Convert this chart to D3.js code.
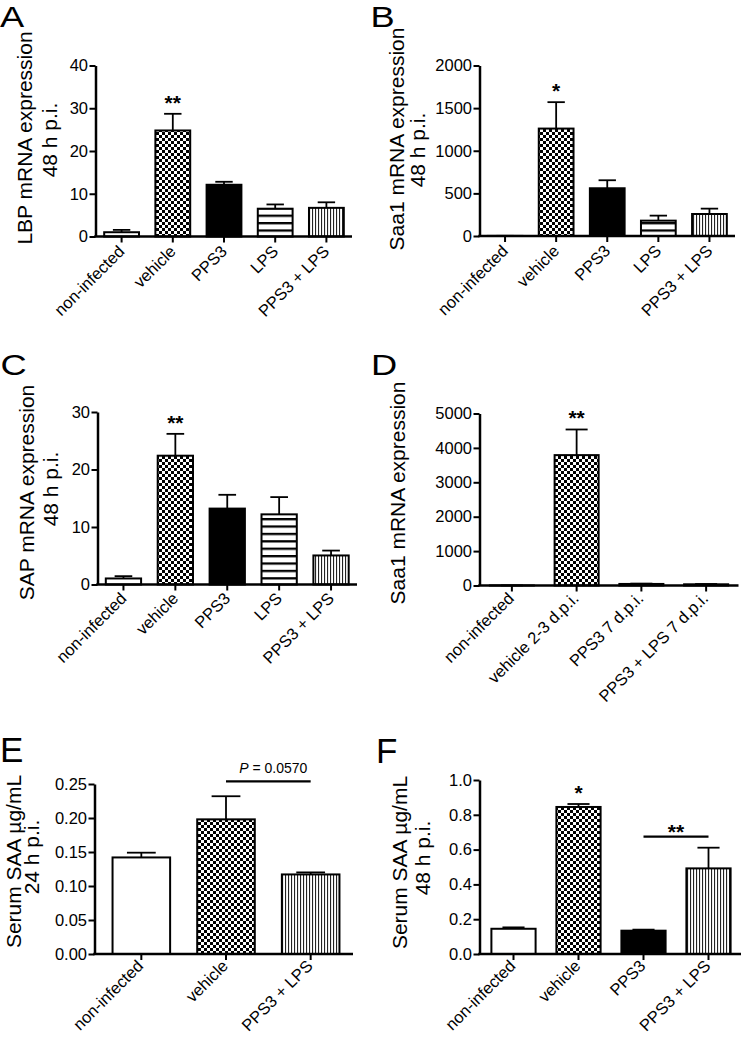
<!DOCTYPE html>
<html><head><meta charset="utf-8">
<script src="https://cdn.jsdelivr.net/npm/d3@7"></script>
<style>
body{margin:0;background:#fff}
svg{display:block}
text{font-family:"Liberation Sans",Arial,Helvetica,sans-serif;fill:#000}
</style>
</head><body>
<svg id="c" width="742" height="1039"></svg>
<script>
// ---------------- data ----------------
const catA = ["non-infected", "vehicle", "PPS3", "LPS", "PPS3 + LPS"];
const meanA = [1.0, 24.8, 12.1, 6.5, 6.7];
const semA = [0.55, 3.9, 0.7, 1.0, 1.3];
const starsA = ["", "**", "", "", ""];
const ticksA = [0, 10, 20, 30, 40];
const ylabA = ["LBP mRNA expression", "48 h p.i."];

const catB = ["non-infected", "vehicle", "PPS3", "LPS", "PPS3 + LPS"];
const meanB = [1, 1260, 560, 180, 258];
const semB = [1, 310, 94, 59, 63];
const starsB = ["", "*", "", "", ""];
const ticksB = [0, 500, 1000, 1500, 2000];
const ylabB = ["Saa1 mRNA expression", "48 h p.i."];

const catC = ["non-infected", "vehicle", "PPS3", "LPS", "PPS3 + LPS"];
const meanC = [1.05, 22.4, 13.2, 12.2, 5.05];
const semC = [0.4, 3.8, 2.4, 3.0, 0.85];
const starsC = ["", "**", "", "", ""];
const ticksC = [0, 10, 20, 30];
const ylabC = ["SAP mRNA expression", "48 h p.i."];

const catD = ["non-infected", "vehicle 2-3 d.p.i.", "PPS3 7 d.p.i.", "PPS3 + LPS 7 d.p.i."];
const meanD = [1, 3790, 45, 35];
const semD = [1, 745, 10, 8];
const starsD = ["", "**", "", ""];
const ticksD = [0, 1000, 2000, 3000, 4000, 5000];
const ylabD = ["Saa1 mRNA expression"];

const catE = ["non-infected", "vehicle", "PPS3 + LPS"];
const meanE = [0.142, 0.198, 0.117];
const semE = [0.007, 0.034, 0.003];
const starsE = ["", "", ""];
const ticksE = [0, 0.05, 0.10, 0.15, 0.20, 0.25];
const ylabE = ["Serum SAA µg/mL", "24 h p.i."];
const bracketE = ["vehicle", "PPS3 + LPS", 0.254, "P = 0.0570"];

const catF = ["non-infected", "vehicle", "PPS3", "PPS3 + LPS"];
const meanF = [0.145, 0.845, 0.134, 0.492];
const semF = [0.008, 0.017, 0.006, 0.119];
const starsF = ["", "*", "", ""];
const ticksF = [0, 0.2, 0.4, 0.6, 0.8, 1.0];
const ylabF = ["Serum SAA µg/mL", "48 h p.i."];
const bracketF = ["PPS3", "PPS3 + LPS", 0.675, "**"];

// ---------------- layout ----------------
const svg = d3.select("#c");
const defs = svg.append("defs");
const chk = defs.append("pattern").attr("id", "chk").attr("patternUnits", "userSpaceOnUse").attr("width", 6).attr("height", 6);
chk.append("rect").attr("width", 6).attr("height", 6).attr("fill", "#fff");
chk.append("rect").attr("width", 3).attr("height", 3).attr("fill", "#000");
chk.append("rect").attr("x", 3).attr("y", 3).attr("width", 3).attr("height", 3).attr("fill", "#000");
const hst = defs.append("pattern").attr("id", "hst").attr("patternUnits", "userSpaceOnUse").attr("width", 8).attr("height", 7.4);
hst.append("rect").attr("width", 8).attr("height", 7.4).attr("fill", "#fff");
hst.append("rect").attr("width", 8).attr("height", 2.3).attr("fill", "#000");
const vst = defs.append("pattern").attr("id", "vst").attr("patternUnits", "userSpaceOnUse").attr("width", 3).attr("height", 4);
vst.append("rect").attr("width", 3).attr("height", 4).attr("fill", "#fff");
vst.append("rect").attr("width", 1.1).attr("height", 4).attr("fill", "#222");

function fillFor(c) {
  if (c.startsWith("non")) return "#fff";
  if (c.startsWith("vehicle")) return "url(#chk)";
  if (c.startsWith("PPS3 + LPS")) return "url(#vst)";
  if (c.startsWith("PPS3")) return "#000";
  if (c.startsWith("LPS")) return "url(#hst)";
  return "#fff";
}

const panels = [
  {letter: "A", lx: 0, ly: 27, lfs: 29, lsx: 1.25, cats: catA, mean: meanA, sem: semA, stars: starsA, ticks: ticksA, fmt: d3.format("d"), ylab: ylabA,
   left: 95.5, top: 65.5, bottom: 236.5, x0: 96, x1: 352, ylx: [32, 57], yly: [138, 140], cdx: 4, cdy: 16},
  {letter: "B", lx: 370.5, ly: 27, lfs: 29, lsx: 1.25, cats: catB, mean: meanB, sem: semB, stars: starsB, ticks: ticksB, fmt: d3.format("d"), ylab: ylabB,
   left: 479.5, top: 65.5, bottom: 236, x0: 479.5, x1: 735, ylx: [403.5, 425], yly: [139, 150], cdx: 4, cdy: 16},
  {letter: "C", lx: 0.5, ly: 375, lfs: 29, lsx: 1.25, cats: catC, mean: meanC, sem: semC, stars: starsC, ticks: ticksC, fmt: d3.format("d"), ylab: ylabC,
   left: 97.5, top: 412, bottom: 584.5, x0: 97.5, x1: 357, ylx: [33.5, 57.5], yly: [492.5, 489], cdx: 4, cdy: 15},
  {letter: "D", lx: 371, ly: 375, lfs: 29, lsx: 1.25, cats: catD, mean: meanD, sem: semD, stars: starsD, ticks: ticksD, fmt: d3.format("d"), ylab: ylabD,
   left: 479.5, top: 413.5, bottom: 585.5, x0: 479.5, x1: 738.5, ylx: [404.5], yly: [493], cdx: 3, cdy: 14},
  {letter: "E", lx: 0, ly: 762, lfs: 35, lsx: 1.0, cats: catE, mean: meanE, sem: semE, stars: starsE, ticks: ticksE, fmt: d3.format(".2f"), ylab: ylabE,
   left: 94.5, top: 784, bottom: 954, x0: 99, x1: 353, ylx: [20.5, 39], yly: [861.5, 857], cdx: 3, cdy: 13, bracket: bracketE},
  {letter: "F", lx: 376, ly: 763, lfs: 35, lsx: 1.0, cats: catF, mean: meanF, sem: semF, stars: starsF, ticks: ticksF, fmt: d3.format(".1f"), ylab: ylabF,
   left: 479.5, top: 780, bottom: 954, x0: 481, x1: 741, ylx: [406.5, 430], yly: [862.5, 858], cdx: 3, cdy: 13, bracket: bracketF}
];

panels.forEach(p => {
  const g = svg.append("g");
  const x = d3.scaleBand().domain(p.cats).range([p.x0, p.x1]).paddingInner(0.32).paddingOuter(0.16);
  const ymax = p.ticks[p.ticks.length - 1];
  const y = d3.scaleLinear().domain([0, ymax]).range([p.bottom, p.top]);
  const bw = x.bandwidth();

  // panel letter
  g.append("text").attr("transform", `translate(${p.lx},${p.ly}) scale(${p.lsx},1)`)
    .attr("font-size", p.lfs).text(p.letter);

  // y label
  p.ylab.forEach((t, i) => {
    g.append("text").attr("transform", `translate(${p.ylx[i]},${p.yly[i]}) rotate(-90)`)
      .attr("text-anchor", "middle").attr("font-size", 21).text(t);
  });

  // bars
  const rows = p.cats.map((c, i) => ({c, v: p.mean[i], e: p.sem[i], s: p.stars[i]}));
  g.selectAll("rect.bar").data(rows).join("rect").attr("class", "bar")
    .attr("x", d => x(d.c)).attr("width", bw)
    .attr("y", d => y(d.v)).attr("height", d => y(0) - y(d.v))
    .attr("fill", d => fillFor(d.c)).attr("stroke", "#000").attr("stroke-width", 2);

  // error bars and significance stars
  rows.forEach(d => {
    const cx = x(d.c) + bw / 2;
    g.append("line").attr("x1", cx).attr("x2", cx).attr("y1", y(d.v)).attr("y2", y(d.v + d.e))
      .attr("stroke", "#000").attr("stroke-width", 1.8);
    g.append("line").attr("x1", cx - bw / 4).attr("x2", cx + bw / 4).attr("y1", y(d.v + d.e)).attr("y2", y(d.v + d.e))
      .attr("stroke", "#000").attr("stroke-width", 1.8);
    if (d.s) {
      g.append("text").attr("x", cx).attr("y", y(d.v + d.e) - 4).attr("text-anchor", "middle")
        .attr("font-size", 21).attr("font-weight", "bold").text(d.s);
    }
  });

  // y axis
  const ya = g.append("g").attr("transform", `translate(${p.left},0)`)
    .call(d3.axisLeft(y).tickValues(p.ticks).tickFormat(p.fmt).tickSize(6).tickSizeOuter(0).tickPadding(1.5));
  ya.select(".domain").attr("stroke-width", 2.5);
  ya.selectAll(".tick line").attr("stroke-width", 2);
  ya.selectAll(".tick text").attr("font-size", 16.5).attr("font-family", null);

  // x axis
  const xa = g.append("g").attr("transform", `translate(0,${p.bottom})`)
    .call(d3.axisBottom(x).tickSize(6).tickSizeOuter(0));
  xa.select(".domain").remove();
  xa.selectAll(".tick line").attr("stroke-width", 2);
  xa.selectAll(".tick text").attr("font-size", 16.5).attr("font-family", null)
    .attr("text-anchor", "end").attr("x", 0).attr("y", 0).attr("dy", 0)
    .attr("transform", `translate(${p.cdx},${p.cdy}) rotate(-45)`);
  g.append("line").attr("x1", p.left - 1.25).attr("x2", p.x1).attr("y1", p.bottom).attr("y2", p.bottom)
    .attr("stroke", "#000").attr("stroke-width", 2.5);

  // comparison bracket
  if (p.bracket) {
    const [a, b, lv, lab] = p.bracket;
    const xa1 = x(a) + bw / 2, xb1 = x(b) + bw / 2, ly = y(lv);
    g.append("line").attr("x1", xa1).attr("x2", xb1).attr("y1", ly).attr("y2", ly)
      .attr("stroke", "#000").attr("stroke-width", 2.3);
    if (lab.startsWith("P")) {
      const t = g.append("text").attr("x", (xa1 + xb1) / 2 + 5).attr("y", ly - 8)
        .attr("text-anchor", "middle").attr("font-size", 14);
      t.append("tspan").attr("font-style", "italic").text("P");
      t.append("tspan").text(lab.slice(1));
    } else {
      g.append("text").attr("x", (xa1 + xb1) / 2).attr("y", ly + 2).attr("text-anchor", "middle")
        .attr("font-size", 21).attr("font-weight", "bold").text(lab);
    }
  }
});
</script>
</body></html>
